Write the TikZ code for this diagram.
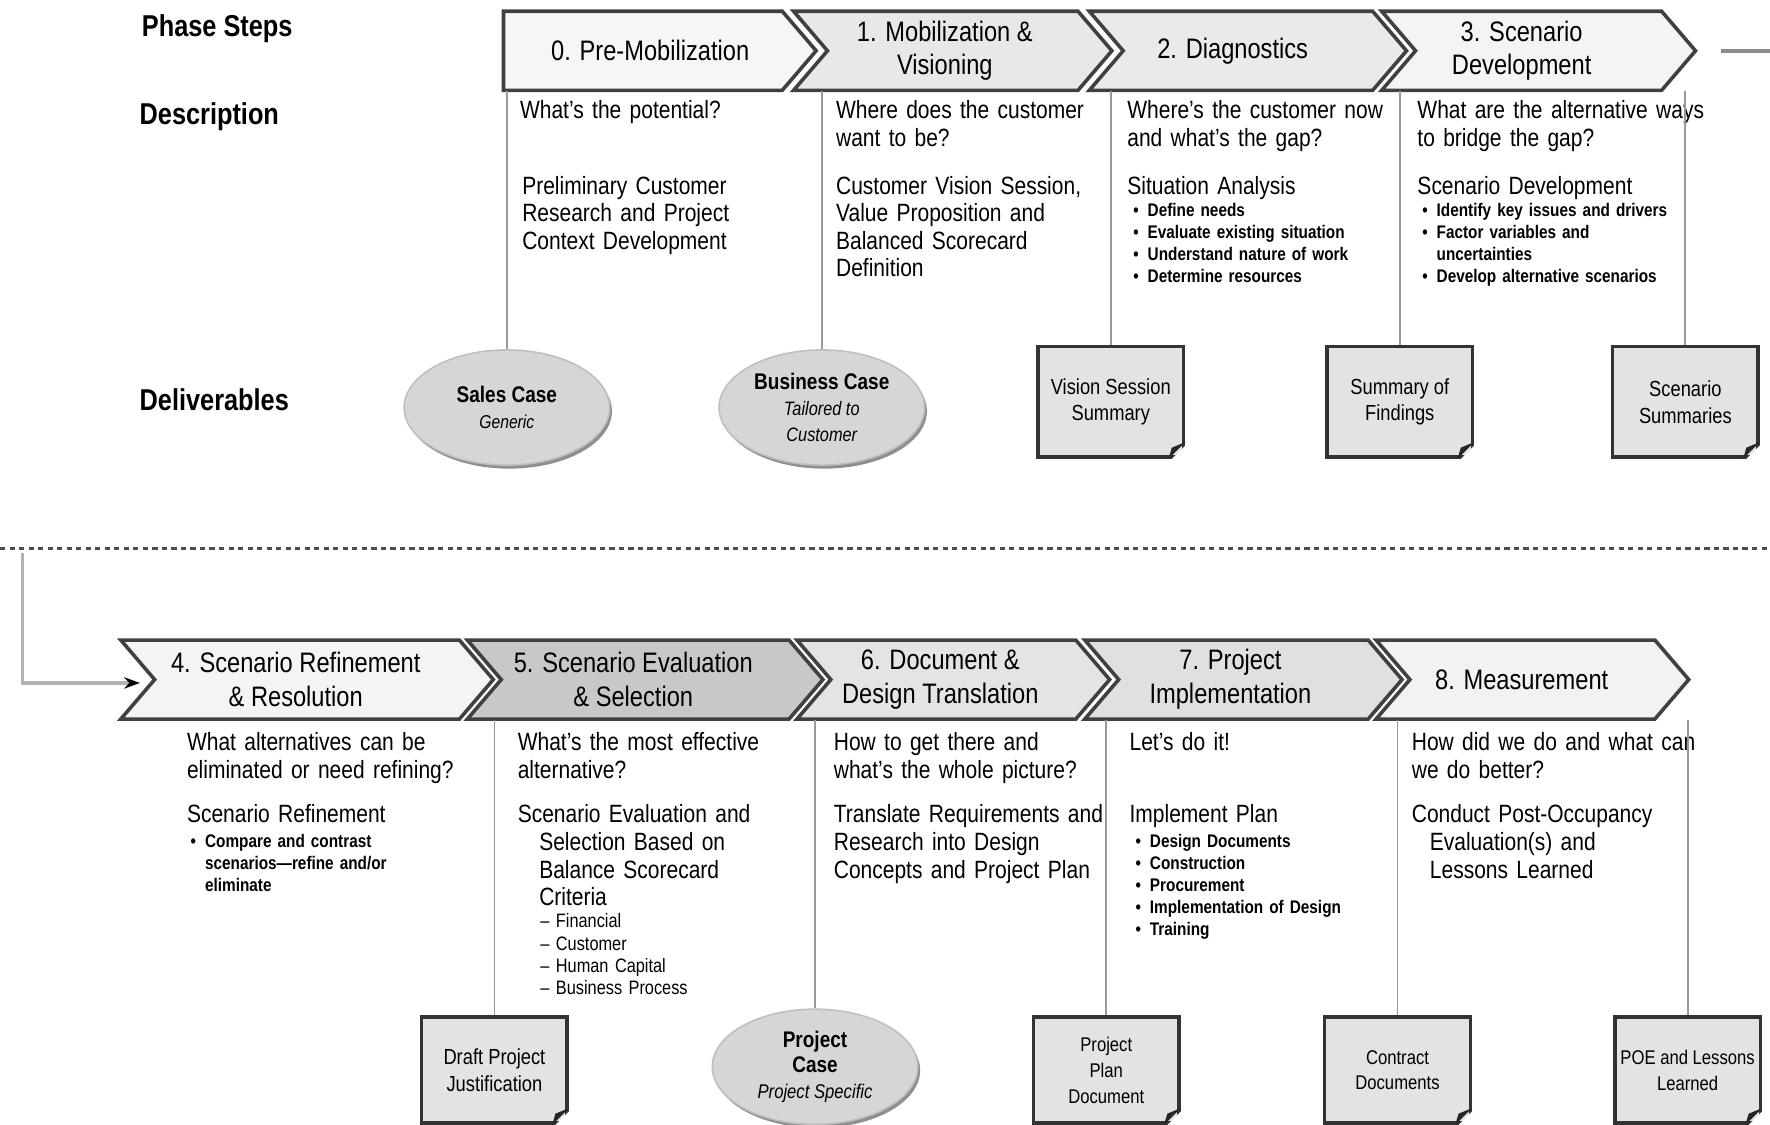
\documentclass[tikz,border=0pt]{standalone}
\usepackage{fontspec}
\setmainfont{Liberation Sans}[FakeStretch=0.84]
\usepackage{tikz}
\usetikzlibrary{calc,shapes.geometric,arrows.meta,shadows}
\definecolor{c0}{HTML}{F6F6F6}
\definecolor{c1}{HTML}{E8E8E8}
\definecolor{c2}{HTML}{EAEAEA}
\definecolor{c3}{HTML}{F4F4F4}
\definecolor{c4}{HTML}{F4F4F4}
\definecolor{c5}{HTML}{C8C8C8}
\definecolor{c6}{HTML}{E4E4E4}
\definecolor{c7}{HTML}{E0E0E0}
\definecolor{c8}{HTML}{F2F2F2}
\newcommand{\bulit}{\leavevmode\llap{\textbullet\hspace{0.08cm}}}
\tikzset{
    chev/.style={draw=black!75, line width=0.9pt, line join=miter},
    phase/.style={inner sep=0pt, minimum height=0.7cm, align=center, font=\fontsize{7.1}{8.5}\selectfont},
    head/.style={anchor=west, inner sep=0pt, font=\bfseries\fontsize{7.6}{9}\selectfont},
    quest/.style={anchor=base west, inner sep=0pt, text width=2.8cm, align=left, font=\fontsize{6.3}{6.95}\selectfont},
    blt/.style={quest, font=\bfseries\fontsize{4.6}{5.5}\selectfont},
    dsh/.style={quest, font=\fontsize{4.9}{5.6}\selectfont},
    link/.style={draw=black!40, line width=0.45pt},
    doc/.style={rectangle, draw=black!80, line width=0.9pt, fill=black!11, minimum width=1.29cm, minimum height=0.98cm, inner sep=0pt, align=center, font=\fontsize{5.5}{6.8}\selectfont},
    smalldoc/.style={doc, minimum height=0.94cm, font=\fontsize{5.0}{6.5}\selectfont},
    case/.style={ellipse, fill=black!16, draw=black!25, line width=0.4pt, minimum width=1.82cm, minimum height=1.02cm, inner sep=0pt, align=center, drop shadow={shadow xshift=0.6pt, shadow yshift=-0.9pt, fill=black!55, opacity=0.8}, font=\bfseries\fontsize{5.7}{6.5}\selectfont},
    fold/.style={fill=black!85},
    loopln/.style={draw=black!30, line width=0.8pt},
  }

\begin{document}
\begin{tikzpicture}
  \useasboundingbox (0,0) rectangle (15.68,-9.96);
  %ROW TITLES
  \node[head] (hPS) at (1.25,-0.25) {Phase Steps};
  \node[head] (hDS) at (1.23,-1.03) {Description};
  \node[head] (hDL) at (1.23,-3.54) {Deliverables};

  %PHASES 0-3
  \draw[chev,fill=c0] (4.46,-0.10) -- (6.93,-0.10) -- (7.23,-0.45) -- (6.93,-0.80) -- (4.46,-0.80) -- cycle;
  \draw[chev,fill=c1] (7.03,-0.10) -- (9.55,-0.10) -- (9.85,-0.45) -- (9.55,-0.80) -- (7.03,-0.80) -- (7.33,-0.45) -- cycle;
  \draw[chev,fill=c2] (9.65,-0.10) -- (12.16,-0.10) -- (12.46,-0.45) -- (12.16,-0.80) -- (9.65,-0.80) -- (9.95,-0.45) -- cycle;
  \draw[chev,fill=c3] (12.24,-0.10) -- (14.72,-0.10) -- (15.02,-0.45) -- (14.72,-0.80) -- (12.24,-0.80) -- (12.54,-0.45) -- cycle;
  \node[phase] (p0) at (5.76,-0.45) {0. Pre-Mobilization};
  \node[phase] (p1) at (8.37,-0.45) {1. Mobilization \&\\Visioning};
  \node[phase] (p2) at (10.92,-0.45) {2. Diagnostics};
  \node[phase] (p3) at (13.48,-0.45) {3. Scenario\\Development};
  \coordinate (o1) at (15.25,-0.45);
  \coordinate (o2) at (15.68,-0.45);
  \draw[draw=black!45, line width=1pt] (o1) -- (o2);

  %DESCRIPTION 0-3
  \node[quest] (q0) at (4.60,-1.05) {What's the potential?};
  \node[quest] (q1) at (7.40,-1.05) {Where does the customer\\want to be?};
  \node[quest] (q2) at (9.98,-1.05) {Where's the customer now\\and what's the gap?};
  \node[quest] (q3) at (12.55,-1.05) {What are the alternative ways\\to bridge the gap?};
  \node[quest] (a0) at (4.62,-1.72) {Preliminary Customer\\Research and Project\\Context Development};
  \node[quest] (a1) at (7.40,-1.72) {Customer Vision Session,\\Value Proposition and\\Balanced Scorecard\\Definition};
  \node[quest] (a2) at (9.98,-1.72) {Situation Analysis};
  \node[blt] (b2) at (10.16,-1.92) {\bulit Define needs\\\bulit Evaluate existing situation\\\bulit Understand nature of work\\\bulit Determine resources};
  \node[quest] (a3) at (12.55,-1.72) {Scenario Development};
  \node[blt] (b3) at (12.72,-1.92) {\bulit Identify key issues and drivers\\\bulit Factor variables and\\uncertainties\\\bulit Develop alternative scenarios};

  %DELIVERABLES 0-3
  \node[case] (sales) at (4.49,-3.61) {Sales Case\\{\mdseries\itshape\fontsize{4.7}{6.5}\selectfont Generic}};
  \node[case] (bcase) at (7.28,-3.61) {Business Case\\{\mdseries\itshape\fontsize{4.9}{6.5}\selectfont Tailored to}\\{\mdseries\itshape\fontsize{4.9}{6.5}\selectfont Customer}};
  \node[doc] (vis) at (9.84,-3.56) {Vision Session\\Summary};
  \node[doc] (fnd) at (12.40,-3.56) {Summary of\\Findings};
  \node[doc] (scs) at (14.93,-3.56) {Scenario\\Summaries};
  \draw[link] (sales.north) -- (sales.north |- p0.south);
  \draw[link] (bcase.north) -- (bcase.north |- p1.south);
  \draw[link] (vis.north) -- (vis.north |- p2.south);
  \draw[link] (fnd.north) -- (fnd.north |- p3.south);
  \draw[link] (scs.north) -- (scs.north |- p3.south);

  %PAGE BREAK
  \coordinate (dA) at (0,-4.86);
  \coordinate (dB) at (15.68,-4.86);
  \draw[black!70, line width=0.6pt, dash pattern=on 1.3pt off 1.1pt] (dA) -- (dB);
  \coordinate (lp) at (0.20,-4.90);
  \coordinate (in4) at (1.24,-6.05);
  \draw[loopln, -{Stealth[length=0.14cm, width=0.1cm, color=black]}] (lp) |- (in4);

  %PHASES 4-8
  \draw[chev,fill=c4] (1.07,-5.67) -- (4.07,-5.67) -- (4.37,-6.02) -- (4.07,-6.37) -- (1.07,-6.37) -- (1.37,-6.02) -- cycle;
  \draw[chev,fill=c5] (4.14,-5.67) -- (6.99,-5.67) -- (7.29,-6.02) -- (6.99,-6.37) -- (4.14,-6.37) -- (4.44,-6.02) -- cycle;
  \draw[chev,fill=c6] (7.06,-5.67) -- (9.53,-5.67) -- (9.83,-6.02) -- (9.53,-6.37) -- (7.06,-6.37) -- (7.36,-6.02) -- cycle;
  \draw[chev,fill=c7] (9.61,-5.67) -- (12.12,-5.67) -- (12.42,-6.02) -- (12.12,-6.37) -- (9.61,-6.37) -- (9.91,-6.02) -- cycle;
  \draw[chev,fill=c8] (12.19,-5.67) -- (14.66,-5.67) -- (14.96,-6.02) -- (14.66,-6.37) -- (12.19,-6.37) -- (12.49,-6.02) -- cycle;
  \node[phase] (p4) at (2.62,-6.02) {4. Scenario Refinement\\\& Resolution};
  \node[phase] (p5) at (5.61,-6.02) {5. Scenario Evaluation\\\& Selection};
  \node[phase] (p6) at (8.33,-6.02) {6. Document \&\\Design Translation};
  \node[phase] (p7) at (10.90,-6.02) {7. Project\\Implementation};
  \node[phase] (p8) at (13.48,-6.02) {8. Measurement};

  %DESCRIPTION 4-8
  \node[quest] (q4) at (1.65,-6.65) {What alternatives can be\\eliminated or need refining?};
  \node[quest] (q5) at (4.58,-6.65) {What's the most effective\\alternative?};
  \node[quest] (q6) at (7.38,-6.65) {How to get there and\\what's the whole picture?};
  \node[quest] (q7) at (10.00,-6.65) {Let's do it!};
  \node[quest] (q8) at (12.50,-6.65) {How did we do and what can\\we do better?};
  \node[quest] (a4) at (1.65,-7.29) {Scenario Refinement};
  \node[blt] (b4) at (1.81,-7.51) {\bulit Compare and contrast\\scenarios—refine and/or\\eliminate};
  \node[quest] (a5) at (4.58,-7.29) {Scenario Evaluation and\\\hspace*{0.19cm}Selection Based on\\\hspace*{0.19cm}Balance Scorecard\\\hspace*{0.19cm}Criteria};
  \node[dsh] (b5) at (4.78,-8.22) {– Financial\\– Customer\\– Human Capital\\– Business Process};
  \node[quest] (a6) at (7.38,-7.29) {Translate Requirements and\\Research into Design\\Concepts and Project Plan};
  \node[quest] (a7) at (10.00,-7.29) {Implement Plan};
  \node[blt] (b7) at (10.18,-7.51) {\bulit Design Documents\\\bulit Construction\\\bulit Procurement\\\bulit Implementation of Design\\\bulit Training};
  \node[quest] (a8) at (12.50,-7.29) {Conduct Post-Occupancy\\\hspace*{0.16cm}Evaluation(s) and\\\hspace*{0.16cm}Lessons Learned};

  %DELIVERABLES 4-8
  \node[doc, minimum height=0.94cm] (drf) at (4.38,-9.48) {Draft Project\\Justification};
  \node[case] (pcase) at (7.22,-9.45) {Project\\Case\\{\mdseries\itshape\fontsize{5.0}{6.5}\selectfont Project Specific}};
  \node[smalldoc] (pln) at (9.80,-9.48) {Project\\Plan\\Document};
  \node[smalldoc] (ctr) at (12.38,-9.48) {Contract\\Documents};
  \node[smalldoc] (poe) at (14.95,-9.48) {POE and Lessons\\Learned};
  \draw[link] (drf.north) -- (drf.north |- p5.south);
  \draw[link] (pcase.north) -- (pcase.north |- p6.south);
  \draw[link] (pln.north) -- (pln.north |- p7.south);
  \draw[link] (ctr.north) -- (ctr.north |- p8.south);
  \draw[link] (poe.north) -- (poe.north |- p8.south);

  %FOLDED CORNERS
  \foreach \b in {vis,fnd,scs,drf,pln,ctr,poe}{
    \fill[white] ($(\b.south east)+(-0.15,-0.03)$) -- ($(\b.south east)+(0.03,-0.03)$) -- ($(\b.south east)+(0.03,0.15)$) -- cycle;
    \fill[fold] ($(\b.south east)+(-0.15,0)$) -- ($(\b.south east)+(0,0.15)$) -- ($(\b.south east)+(-0.12,0.10)$) -- cycle;
  }
\end{tikzpicture}
\end{document}
